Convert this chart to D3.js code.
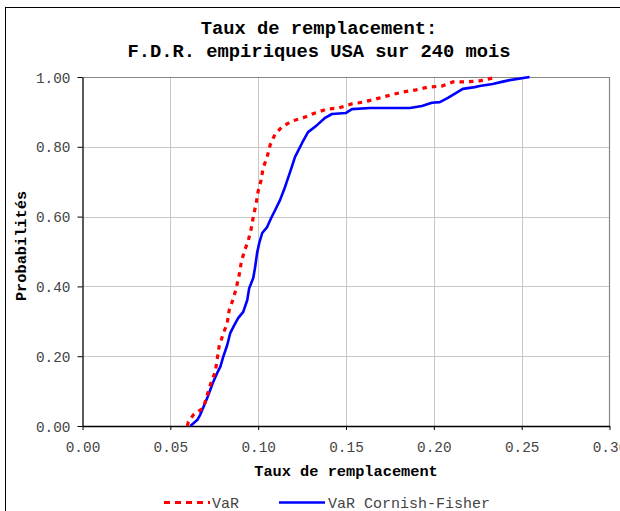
<!DOCTYPE html>
<html><head><meta charset="utf-8">
<script src="https://cdn.jsdelivr.net/npm/d3@7"></script>
<style>
html,body{margin:0;padding:0;background:#fff;}
svg{display:block;}
</style></head>
<body>
<script>
// Data
const varX = [0.0597,0.0602,0.0631,0.0688,0.0710,0.0733,0.0756,0.0767,0.0778,0.0801,0.0824,0.0835,0.0858,0.0875,0.0892,0.0903,0.0920,0.0943,0.0960,0.0972,0.0989,0.1000,0.1017,0.1028,0.1051,0.1068,0.1097,0.1136,0.1193,0.1256,0.1324,0.1392,0.1455,0.1534,0.1597,0.1670,0.1750,0.1824,0.1898,0.1966,0.2045,0.2108,0.2188,0.2261,0.2335,0.2358];
const varP = [0.000,0.011,0.032,0.052,0.089,0.126,0.155,0.192,0.229,0.264,0.295,0.332,0.364,0.395,0.433,0.467,0.499,0.530,0.564,0.599,0.639,0.673,0.705,0.739,0.771,0.805,0.837,0.857,0.874,0.883,0.897,0.908,0.911,0.923,0.928,0.937,0.948,0.957,0.963,0.971,0.974,0.986,0.986,0.989,0.997,1.000];
const cfX = [0.0614,0.0653,0.0670,0.0688,0.0710,0.0727,0.0744,0.0767,0.0784,0.0801,0.0824,0.0841,0.0864,0.0886,0.0915,0.0938,0.0949,0.0972,0.0983,0.0994,0.1006,0.1023,0.1051,0.1074,0.1097,0.1125,0.1153,0.1182,0.1210,0.1250,0.1284,0.1335,0.1381,0.1420,0.1500,0.1534,0.1636,0.1864,0.1932,0.1989,0.2034,0.2080,0.2125,0.2165,0.2233,0.2261,0.2335,0.2386,0.2432,0.2545];
const cfP = [0.000,0.017,0.032,0.054,0.080,0.103,0.126,0.152,0.169,0.198,0.232,0.266,0.289,0.309,0.327,0.361,0.395,0.424,0.456,0.496,0.524,0.553,0.570,0.596,0.619,0.648,0.685,0.728,0.771,0.811,0.842,0.862,0.883,0.894,0.897,0.908,0.911,0.911,0.917,0.926,0.928,0.940,0.954,0.966,0.971,0.974,0.980,0.986,0.991,1.000];
const xTicks = [0, 0.05, 0.10, 0.15, 0.20, 0.25, 0.30];
const yTicks = [0, 0.2, 0.4, 0.6, 0.8, 1.0];
const seriesNames = ["VaR", "VaR Cornish-Fisher"];
const titleLines = ["Taux de remplacement:", "F.D.R. empiriques USA sur 240 mois"];
const xTitle = "Taux de remplacement";
const yTitle = "Probabilités";

const W = 620, H = 511;
const L = 82.5, R = 609.5, T = 77, B = 426;
const mono = "'Liberation Mono','Courier New',monospace";

const svg = d3.select("body").append("svg").attr("width", W).attr("height", H);

// outer chart border
svg.append("rect").attr("x", 5.5).attr("y", 7.5).attr("width", W + 10).attr("height", H + 10)
  .attr("fill", "#fff").attr("stroke", "#000").attr("stroke-width", 1);

const x = d3.scaleLinear().domain([0, 0.30]).range([L, R]);
const y = d3.scaleLinear().domain([0, 1]).range([B, T]);

// title
svg.selectAll("text.title").data(titleLines).join("text")
  .attr("class", "title")
  .attr("x", 319).attr("y", (d, i) => 34 + i * 22.5)
  .attr("text-anchor", "middle")
  .attr("font-family", mono).attr("font-weight", "bold").attr("font-size", 18.8)
  .attr("fill", "#000").text(d => d);

// gridlines
const g = svg.append("g");
g.selectAll("line.vg").data(xTicks.slice(1, -1)).join("line")
  .attr("x1", d => Math.round(x(d)) + 0.5).attr("x2", d => Math.round(x(d)) + 0.5)
  .attr("y1", T).attr("y2", B).attr("stroke", "#c8c8c8").attr("stroke-width", 1);
g.selectAll("line.hg").data(yTicks.slice(1, -1)).join("line")
  .attr("y1", d => Math.round(y(d)) + 0.5).attr("y2", d => Math.round(y(d)) + 0.5)
  .attr("x1", L).attr("x2", R).attr("stroke", "#c8c8c8").attr("stroke-width", 1);

// plot border top/right gray
svg.append("line").attr("x1", L).attr("x2", R).attr("y1", T + 0.5).attr("y2", T + 0.5)
  .attr("stroke", "#888").attr("stroke-width", 1.2);
svg.append("line").attr("x1", R).attr("x2", R).attr("y1", T).attr("y2", B)
  .attr("stroke", "#888").attr("stroke-width", 1.2);

// axes
const xAxis = d3.axisBottom(x).tickValues(xTicks).tickFormat(d3.format(".2f")).tickSizeInner(4).tickSizeOuter(0).tickPadding(12);
const yAxis = d3.axisLeft(y).tickValues(yTicks).tickFormat(d3.format(".2f")).tickSizeInner(5).tickSizeOuter(0).tickPadding(7);
const gx = svg.append("g").attr("transform", `translate(0,${B})`).call(xAxis);
const gy = svg.append("g").attr("transform", `translate(${L},0)`).call(yAxis);
[gx, gy].forEach(a => {
  a.select(".domain").attr("stroke", "#000").attr("stroke-width", 1.3);
  a.selectAll(".tick line").attr("stroke", "#000");
  a.selectAll(".tick text").attr("font-family", mono).attr("font-size", 14.4).attr("fill", "#444");
});
gy.selectAll(".tick text").attr("dy", "0.35em");

// axis titles
svg.append("text").attr("x", 346).attr("y", 476).attr("text-anchor", "middle")
  .attr("font-family", mono).attr("font-weight", "bold").attr("font-size", 15.3).text(xTitle);
svg.append("text").attr("transform", "translate(26,246) rotate(-90)").attr("text-anchor", "middle")
  .attr("font-family", mono).attr("font-weight", "bold").attr("font-size", 15.3).text(yTitle);

// series
const line = d3.line().x(d => x(d[0])).y(d => y(d[1]));
const varData = varX.map((v, i) => [v, varP[i]]);
const cfData = cfX.map((v, i) => [v, cfP[i]]);
svg.append("path").datum(cfData).attr("d", line).attr("fill", "none")
  .attr("stroke", "#0000ff").attr("stroke-width", 2.6).attr("stroke-linejoin", "round");
svg.append("path").datum(varData).attr("d", line).attr("fill", "none")
  .attr("stroke", "#ff0000").attr("stroke-width", 3.2).attr("stroke-dasharray", "4.5,5");

// legend
const lg = svg.append("g");
lg.append("line").attr("x1", 164).attr("x2", 210).attr("y1", 502.5).attr("y2", 502.5)
  .attr("stroke", "#ff0000").attr("stroke-width", 3.2).attr("stroke-dasharray", "6,5");
lg.append("text").attr("x", 212).attr("y", 507.5).attr("font-family", mono).attr("font-size", 15)
  .attr("fill", "#444").text(seriesNames[0]);
lg.append("line").attr("x1", 279).attr("x2", 325).attr("y1", 502.5).attr("y2", 502.5)
  .attr("stroke", "#0000ff").attr("stroke-width", 2.6);
lg.append("text").attr("x", 328).attr("y", 507.5).attr("font-family", mono).attr("font-size", 15)
  .attr("fill", "#444").text(seriesNames[1]);
</script>
</body></html>
